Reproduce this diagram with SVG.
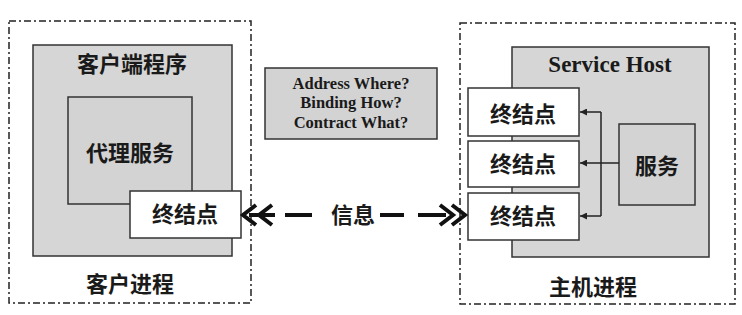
<svg xmlns="http://www.w3.org/2000/svg" width="742" height="315" viewBox="0 0 742 315">
  <style>
    .proc { fill: none; stroke: #222; stroke-width: 1.5; stroke-dasharray: 7 3 2 3; }
    .host { fill: #d6d6d6; stroke: #333; stroke-width: 1.5; }
    .inner { fill: #d3d3d3; stroke: #333; stroke-width: 1.5; }
    .ep { fill: #ffffff; stroke: #333; stroke-width: 1.5; }
    .cn { font-family: "Noto Sans CJK SC", "Noto Sans", sans-serif; font-size: 22px; font-weight: 600; fill: #1a1a1a; text-anchor: middle; }
    .en { font-family: "Liberation Serif", serif; font-weight: bold; fill: #1a1a1a; text-anchor: middle; }
    .wire { fill: none; stroke: #222; stroke-width: 1.5; }
    .msg { fill: none; stroke: #111; stroke-width: 4; }
  </style>
  <defs>
    <marker id="tri" viewBox="0 0 10 10" refX="10" refY="5" markerWidth="7" markerHeight="7" markerUnits="userSpaceOnUse" orient="auto">
      <path d="M0,0 L10,5 L0,10 Z" fill="#222"/>
    </marker>
  </defs>
  <rect width="742" height="315" fill="#ffffff"/>

  <!-- client side process -->
  <g id="client-process">
    <rect class="proc" x="9" y="21" width="242" height="282"/>
    <text class="cn" x="130" y="292">客户进程</text>
  </g>
  <g id="client-app">
    <rect class="host" x="33" y="45" width="199" height="211"/>
    <text class="cn" x="132" y="72">客户端程序</text>
  </g>
  <g id="proxy">
    <rect class="inner" x="68" y="97" width="124" height="107"/>
    <text class="cn" x="130" y="161">代理服务</text>
  </g>
  <g id="client-endpoint">
    <rect class="ep" x="130" y="191" width="111" height="47"/>
    <text class="cn" x="185" y="222">终结点</text>
  </g>

  <!-- ABC note -->
  <g id="abc">
    <rect class="inner" x="265" y="68" width="172" height="71"/>
    <text class="en" font-size="16.5" x="351" y="89">Address  Where?</text>
    <text class="en" font-size="16.5" x="351" y="108">Binding  How?</text>
    <text class="en" font-size="16.5" x="351" y="128">Contract What?</text>
  </g>

  <!-- host side process -->
  <g id="host-process">
    <rect class="proc" x="460" y="23" width="275" height="281"/>
    <text class="cn" x="593" y="295">主机进程</text>
  </g>
  <g id="service-host">
    <rect class="host" x="512" y="47" width="197" height="210"/>
    <text class="en" font-size="23" x="610" y="72">Service Host</text>
  </g>
  <g id="service">
    <rect class="inner" x="619" y="124" width="76" height="81"/>
    <text class="cn" x="657" y="174">服务</text>
  </g>
  <g id="host-endpoint-1">
    <rect class="ep" x="468" y="88" width="111" height="48"/>
    <text class="cn" x="523" y="122">终结点</text>
  </g>
  <g id="host-endpoint-2">
    <rect class="ep" x="468" y="141" width="111" height="46"/>
    <text class="cn" x="523" y="172">终结点</text>
  </g>
  <g id="host-endpoint-3">
    <rect class="ep" x="468" y="193" width="111" height="47"/>
    <text class="cn" x="523" y="224">终结点</text>
  </g>

  <!-- connectors -->
  <g id="connectors">
    <path class="wire" d="M619,163 H601"/>
    <path class="wire" d="M601,112 V216"/>
    <path class="wire" d="M601,112 H580" marker-end="url(#tri)"/>
    <path class="wire" d="M601,163 H580" marker-end="url(#tri)"/>
    <path class="wire" d="M601,216 H580" marker-end="url(#tri)"/>

    <!-- message link between client and host endpoints -->
    <path class="msg" d="M256,205 L243,215 L256,225 M272,205 L259,215 L272,225"/>
    <path class="msg" d="M249,215 H275 M285,215 H312 M380,215 H404 M418,215 H446"/>
    <path class="msg" d="M452,205 L465,215 L452,225 M440,205 L453,215 L440,225"/>
    <text class="cn" x="353" y="223">信息</text>
  </g>
</svg>
